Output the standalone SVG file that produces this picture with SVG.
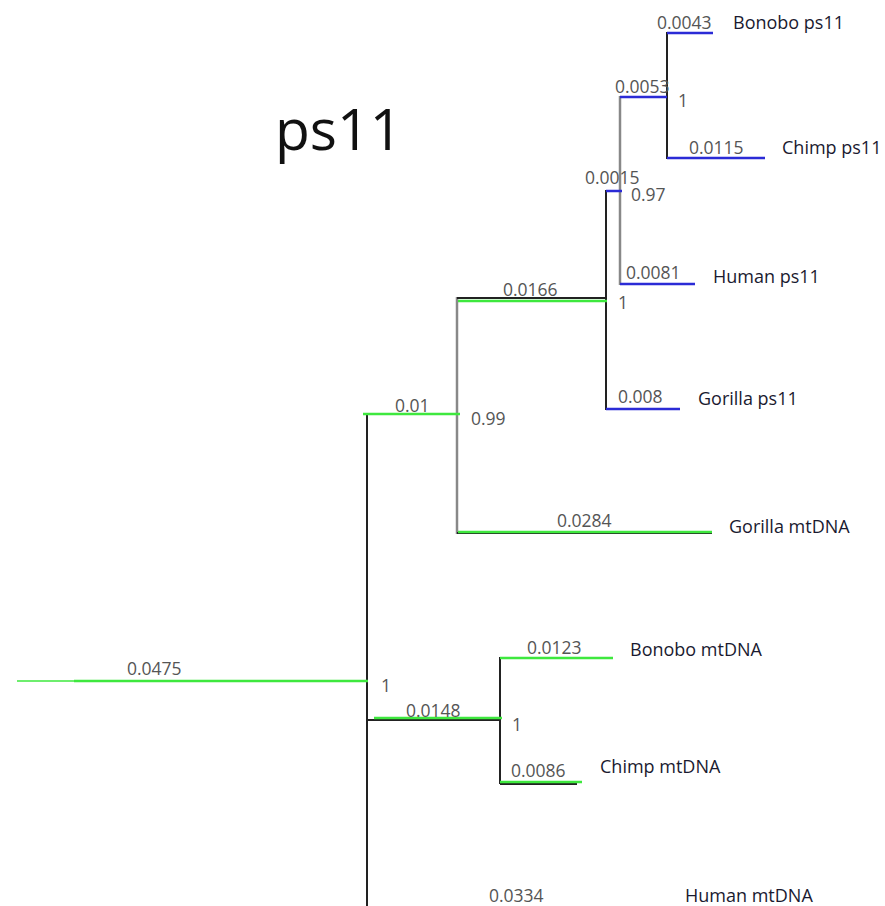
<svg xmlns="http://www.w3.org/2000/svg" width="885" height="906" viewBox="0 0 885 906">
<style>
.g{stroke:#3ee83e;stroke-width:2.5;fill:none}
.b{stroke:#2b2bd6;stroke-width:2.5;fill:none}
.k{stroke:#222;stroke-width:2;fill:none}
.y{stroke:#888;stroke-width:2.5;fill:none}
.n{font-family:"Open Sans",sans-serif;font-size:17.5px;fill:#555}
.s{font-family:"Open Sans",sans-serif;font-size:17.5px;fill:#555}
.l{font-family:"Open Sans",sans-serif;font-size:18px;fill:#1a1a30}
.t{font-family:"Open Sans","Liberation Sans",sans-serif;font-size:57px;fill:#111}
</style>
<rect width="885" height="906" fill="#fff"/>
<text class="t" x="275" y="150">ps11</text>
<g id="connectors">
<line class="k" x1="367" y1="413" x2="367" y2="906"/>
<line class="y" x1="457" y1="297" x2="457" y2="534"/>
<line class="k" x1="606" y1="190" x2="606" y2="410"/>
<line class="y" x1="620" y1="96" x2="620" y2="285"/>
<line class="k" x1="667" y1="32" x2="667" y2="159"/>
<line class="k" x1="500" y1="657" x2="500" y2="784"/>
<line stroke="#3ee83e" stroke-width="1.5" x1="17" y1="681" x2="74" y2="681"/>
<line class="g" x1="74" y1="681" x2="368" y2="681"/>
<line class="g" x1="363" y1="414" x2="460" y2="414"/>
<line class="k" x1="457" y1="298" x2="606" y2="298"/>
<line class="g" x1="458" y1="301" x2="607" y2="301"/>
<line class="k" x1="457" y1="533" x2="712" y2="533"/>
<line class="g" x1="458" y1="532" x2="712" y2="532"/>
<line class="b" x1="606" y1="191" x2="622" y2="191"/>
<line class="b" x1="620" y1="97" x2="667" y2="97"/>
<line class="b" x1="667" y1="33" x2="713" y2="33"/>
<line class="b" x1="667" y1="158" x2="765" y2="158"/>
<line class="b" x1="620" y1="284" x2="695" y2="284"/>
<line class="b" x1="606" y1="409" x2="680" y2="409"/>
<line class="k" x1="367" y1="720" x2="500" y2="720"/>
<line class="g" x1="374" y1="718" x2="502" y2="718"/>
<line class="g" x1="500" y1="658" x2="613" y2="658"/>
<line class="k" x1="500" y1="784" x2="577" y2="784"/>
<line class="g" x1="500" y1="782" x2="582" y2="782"/>
</g>
<g id="branch-labels">
<text class="n" x="127" y="675">0.0475</text>
<text class="n" x="395" y="412">0.01</text>
<text class="n" x="503" y="296">0.0166</text>
<text class="n" x="557" y="527">0.0284</text>
<text class="n" x="585" y="184">0.0015</text>
<text class="n" x="615" y="93">0.0053</text>
<text class="n" x="657" y="29">0.0043</text>
<text class="n" x="689" y="154">0.0115</text>
<text class="n" x="626" y="279">0.0081</text>
<text class="n" x="618" y="403">0.008</text>
<text class="n" x="406" y="717">0.0148</text>
<text class="n" x="527" y="654">0.0123</text>
<text class="n" x="511" y="777">0.0086</text>
<text class="n" x="489" y="902">0.0334</text>
</g>
<g id="support-labels">
<text class="s" x="381" y="692">1</text>
<text class="s" x="471" y="425">0.99</text>
<text class="s" x="618" y="309">1</text>
<text class="s" x="631" y="201">0.97</text>
<text class="s" x="678" y="107">1</text>
<text class="s" x="512" y="731">1</text>
</g>
<g id="node-bonobo-ps11"><text class="l" x="733" y="29">Bonobo ps11</text></g>
<g id="node-chimp-ps11"><text class="l" x="782" y="154">Chimp ps11</text></g>
<g id="node-human-ps11"><text class="l" x="713" y="283">Human ps11</text></g>
<g id="node-gorilla-ps11"><text class="l" x="698" y="405">Gorilla ps11</text></g>
<g id="node-gorilla-mtdna"><text class="l" x="729" y="533">Gorilla mtDNA</text></g>
<g id="node-bonobo-mtdna"><text class="l" x="630" y="656">Bonobo mtDNA</text></g>
<g id="node-chimp-mtdna"><text class="l" x="600" y="773">Chimp mtDNA</text></g>
<g id="node-human-mtdna"><text class="l" x="685" y="902">Human mtDNA</text></g>
</svg>
